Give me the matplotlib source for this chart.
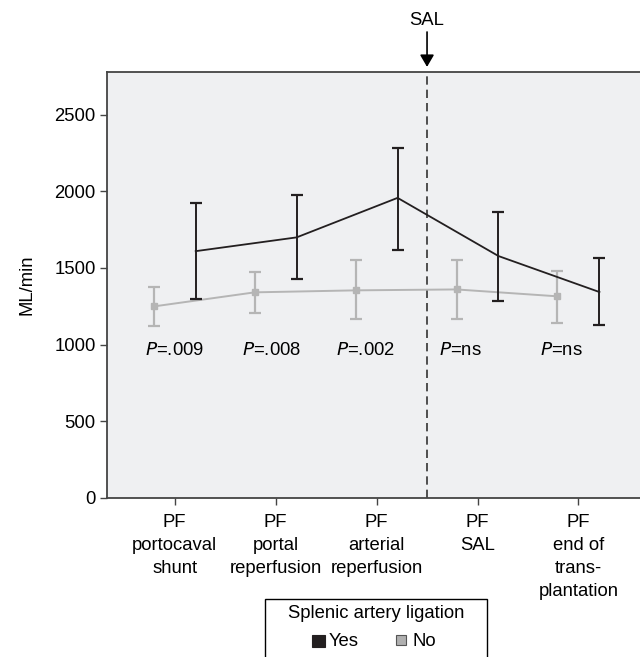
import matplotlib.pyplot as plt
from matplotlib.patches import Rectangle
import numpy as np

plt.rcParams["font.family"] = ["Liberation Sans", "DejaVu Sans"]
plt.rcParams["font.size"] = 13.3

stages = ["PF\nportocaval\nshunt", "PF\nportal\nreperfusion", "PF\narterial\nreperfusion",
          "PF\nSAL", "PF\nend of\ntrans-\nplantation"]

yes_mean = [1610, 1700, 1958, 1578, 1343]
yes_low = [1299, 1425, 1617, 1286, 1127]
yes_high = [1924, 1980, 2281, 1867, 1565]

no_mean = [1249, 1341, 1354, 1360, 1315]
no_low = [1123, 1204, 1164, 1164, 1138]
no_high = [1373, 1473, 1549, 1552, 1480]

p_labels = [".009", ".008", ".002", "ns", "ns"]
p_shift = [0.0, -0.044, -0.11, -0.17, -0.17]

x = np.arange(len(stages))
off = 0.208

W, H = 640, 657
fig = plt.figure(figsize=(W / 100, H / 100), dpi=100)
ax = fig.add_axes([0.1667, 0.2425, 1 - 0.1667, 0.6479])
ax.set_facecolor("#eff0f2")

black = "#231f20"
grey = "#b5b5b5"

yerr_no = [np.array(no_mean) - np.array(no_low), np.array(no_high) - np.array(no_mean)]
ax.errorbar(x - off, no_mean, yerr=yerr_no, color=grey, lw=1.4, elinewidth=1.6,
            capsize=4.3, capthick=1.6, marker="s", ms=4.5, zorder=2)

yerr_yes = [np.array(yes_mean) - np.array(yes_low), np.array(yes_high) - np.array(yes_mean)]
ax.errorbar(x + off, yes_mean, yerr=yerr_yes, color=black, lw=1.3, elinewidth=1.4,
            capsize=4.3, capthick=1.6, zorder=3)

# SAL marker between the 3rd and 4th time points
ax.axvline(2.5, color="#333333", lw=1.2, linestyle=(0, (5, 3)), zorder=1)

for i, lab in enumerate(p_labels):
    ax.text(x[i] + p_shift[i], 964, r"$\it{P}$=" + lab, ha="center", va="center")

ax.annotate("", xy=(2.5, 1.012), xytext=(2.5, 1.094),
            xycoords=("data", "axes fraction"), textcoords=("data", "axes fraction"),
            arrowprops=dict(arrowstyle="-|>,head_length=0.6,head_width=0.35",
                            color="black", lw=1.2, mutation_scale=12, shrinkA=0, shrinkB=0),
            annotation_clip=False)
ax.text(2.5, 1.122, "SAL", transform=ax.get_xaxis_transform(), ha="center", va="center")

ax.set_xlim(-0.674, 4.61)
ax.set_ylim(0, 2780)
ax.set_yticks([0, 500, 1000, 1500, 2000, 2500])
ax.set_xticks(x)
ax.set_xticklabels(stages, linespacing=1.45, va="top")
ax.set_ylabel("ML/min")
ax.yaxis.set_label_coords(-0.133, 0.5)

for s in ["left", "top", "bottom"]:
    ax.spines[s].set_color("#444444")
    ax.spines[s].set_linewidth(1.3)
ax.spines["right"].set_visible(False)
ax.tick_params(axis="both", direction="out", length=5, width=1, color="#444444")
ax.tick_params(axis="x", pad=7)
ax.tick_params(axis="y", pad=3)

# legend box (runs off the bottom edge)
def px(xp, yp):
    return xp / W, 1 - yp / H

fig.patches.append(Rectangle(px(265, 680), 222 / W, 81 / H, transform=fig.transFigure,
                             facecolor="white", edgecolor="black", lw=1.0))
fig.text(*px(376, 614), "Splenic artery ligation", ha="center", va="center")
fig.patches.append(Rectangle(px(312, 647), 13 / W, 12 / H, transform=fig.transFigure,
                             facecolor=black, edgecolor=black, lw=0.8))
fig.text(*px(329, 641), "Yes", ha="left", va="center")
fig.patches.append(Rectangle(px(396, 645), 10 / W, 10 / H, transform=fig.transFigure,
                             facecolor="#b0b0b0", edgecolor="#555555", lw=0.8))
fig.text(*px(412, 641), "No", ha="left", va="center")

fig.savefig("out.png", dpi=100)
